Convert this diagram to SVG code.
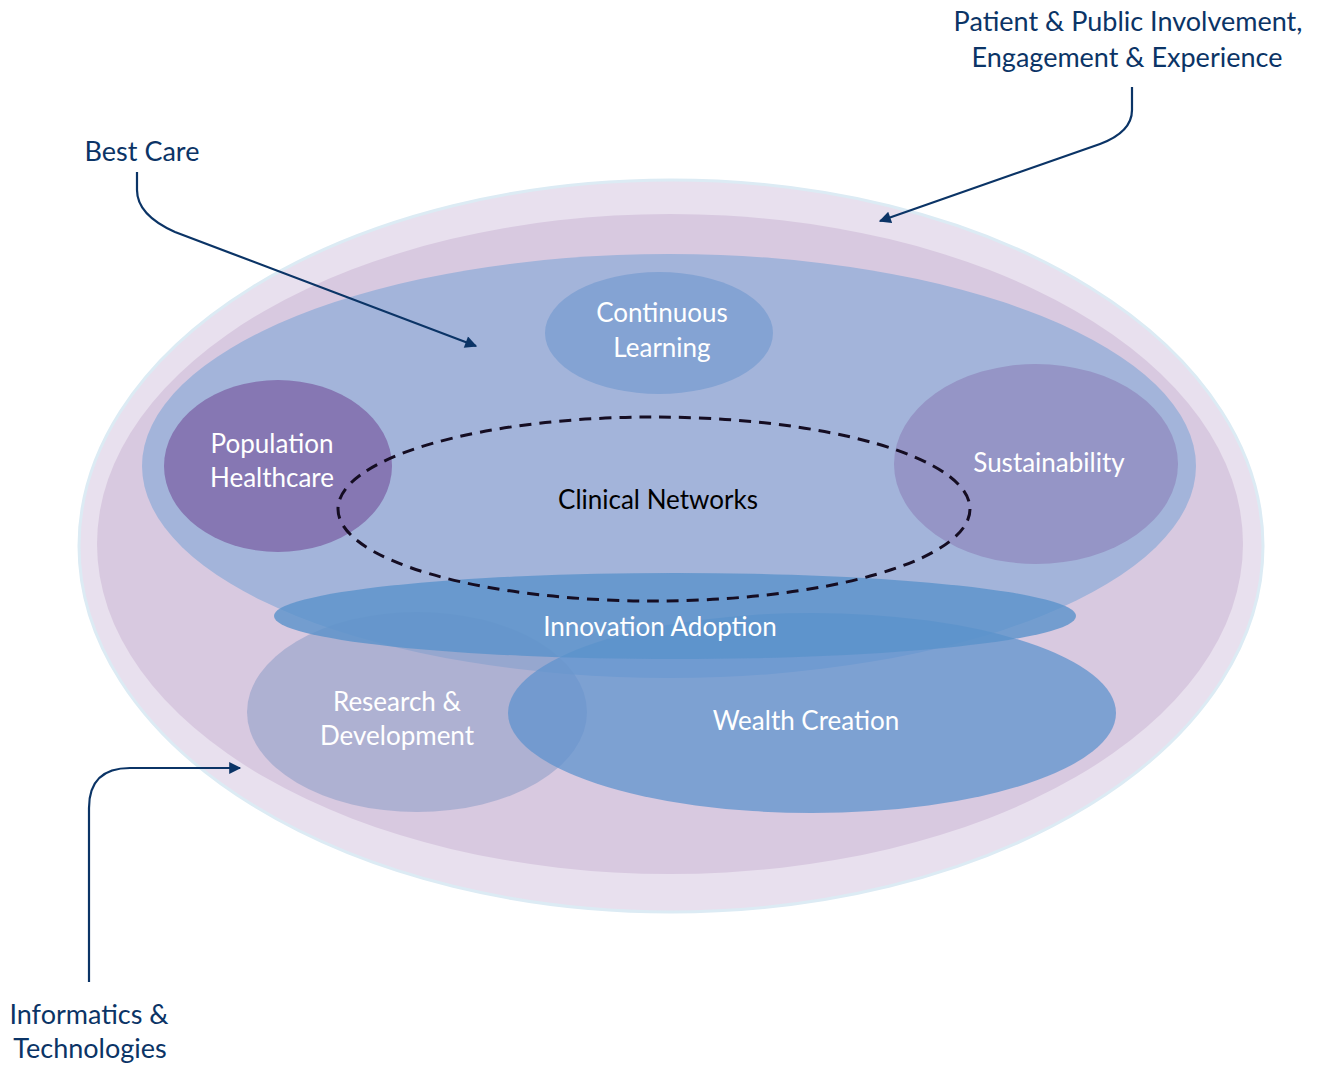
<svg xmlns="http://www.w3.org/2000/svg" width="1318" height="1065" viewBox="0 0 1318 1065">
<style>
.lbl{font-family:Lato,"Open Sans","Liberation Sans",sans-serif;font-size:27px;fill:#0b3466;text-anchor:middle}
.in{font-family:Lato,"Open Sans","Liberation Sans",sans-serif;font-size:26px;fill:#ffffff;text-anchor:middle}
.conn{fill:none;stroke:#0b3466;stroke-width:2.2}
</style>
<defs>
<marker id="ah" viewBox="0 0 10 10" refX="9" refY="5" markerWidth="13" markerHeight="12" markerUnits="userSpaceOnUse" orient="auto">
<path d="M0,0 L10,5 L0,10 Z" fill="#0b3466"/>
</marker>
</defs>
<rect width="1318" height="1065" fill="#ffffff"/>
<g id="outer"><ellipse cx="671" cy="546" rx="592" ry="366" fill="#e8e0ee" stroke="#dcebf4" stroke-width="3"/></g>
<g id="middle"><ellipse cx="670" cy="544" rx="573" ry="330" fill="#d8c9e0"/></g>
<g id="bestcare-area"><ellipse cx="669" cy="466" rx="527" ry="212" fill="#a3b4da"/></g>
<g id="continuous-learning"><ellipse cx="659" cy="333" rx="114" ry="61" fill="#84a3d3"/>
<text class="in" x="662" y="322">Continuous</text><text class="in" x="662" y="357">Learning</text></g>
<g id="population-healthcare"><ellipse cx="278" cy="466" rx="114" ry="86" fill="#8677b3"/>
<text class="in" x="272" y="453">Population</text><text class="in" x="272" y="487">Healthcare</text></g>
<g id="sustainability"><ellipse cx="1036" cy="464" rx="142" ry="100" fill="#9595c6"/>
<text class="in" x="1049" y="472">Sustainability</text></g>
<g id="research-development"><ellipse cx="417" cy="712" rx="170" ry="100" fill="#8c9cc6" fill-opacity="0.55"/>
<text class="in" x="397" y="711">Research &amp;</text><text class="in" x="397" y="745">Development</text></g>
<g id="wealth-creation"><ellipse cx="812" cy="713" rx="304" ry="100" fill="#5f93cd" fill-opacity="0.75"/>
<text class="in" x="806" y="730">Wealth Creation</text></g>
<g id="innovation-adoption"><ellipse cx="675" cy="616" rx="401" ry="43" fill="#5a92cb" fill-opacity="0.8"/>
<text class="in" x="660" y="636">Innovation Adoption</text></g>
<g id="clinical-networks"><ellipse cx="654" cy="509" rx="316" ry="92" fill="none" stroke="#150d22" stroke-width="3" stroke-dasharray="12 8"/>
<text x="658" y="509" style="font-family:Lato,'Open Sans','Liberation Sans',sans-serif;font-size:26px;fill:#000;text-anchor:middle">Clinical Networks</text></g>
<g id="label-ppi"><text class="lbl" x="1128" y="31">Patient &amp; Public Involvement,</text><text class="lbl" x="1127" y="67">Engagement &amp; Experience</text></g>
<g id="label-bestcare"><text class="lbl" x="142" y="161">Best Care</text></g>
<g id="label-informatics"><text class="lbl" x="89" y="1024">Informatics &amp;</text><text class="lbl" x="90" y="1058">Technologies</text></g>
<g id="connectors">
<path class="conn" d="M1132,87 L1132,110 Q1132,132 1100,144 L880,221" marker-end="url(#ah)"/>
<path class="conn" d="M137,172 L137,190 Q137,215 175,232 L476,346" marker-end="url(#ah)"/>
<path class="conn" d="M89,982 L89,808 Q89,768 130,768 L240,768" marker-end="url(#ah)"/>
</g>
</svg>
